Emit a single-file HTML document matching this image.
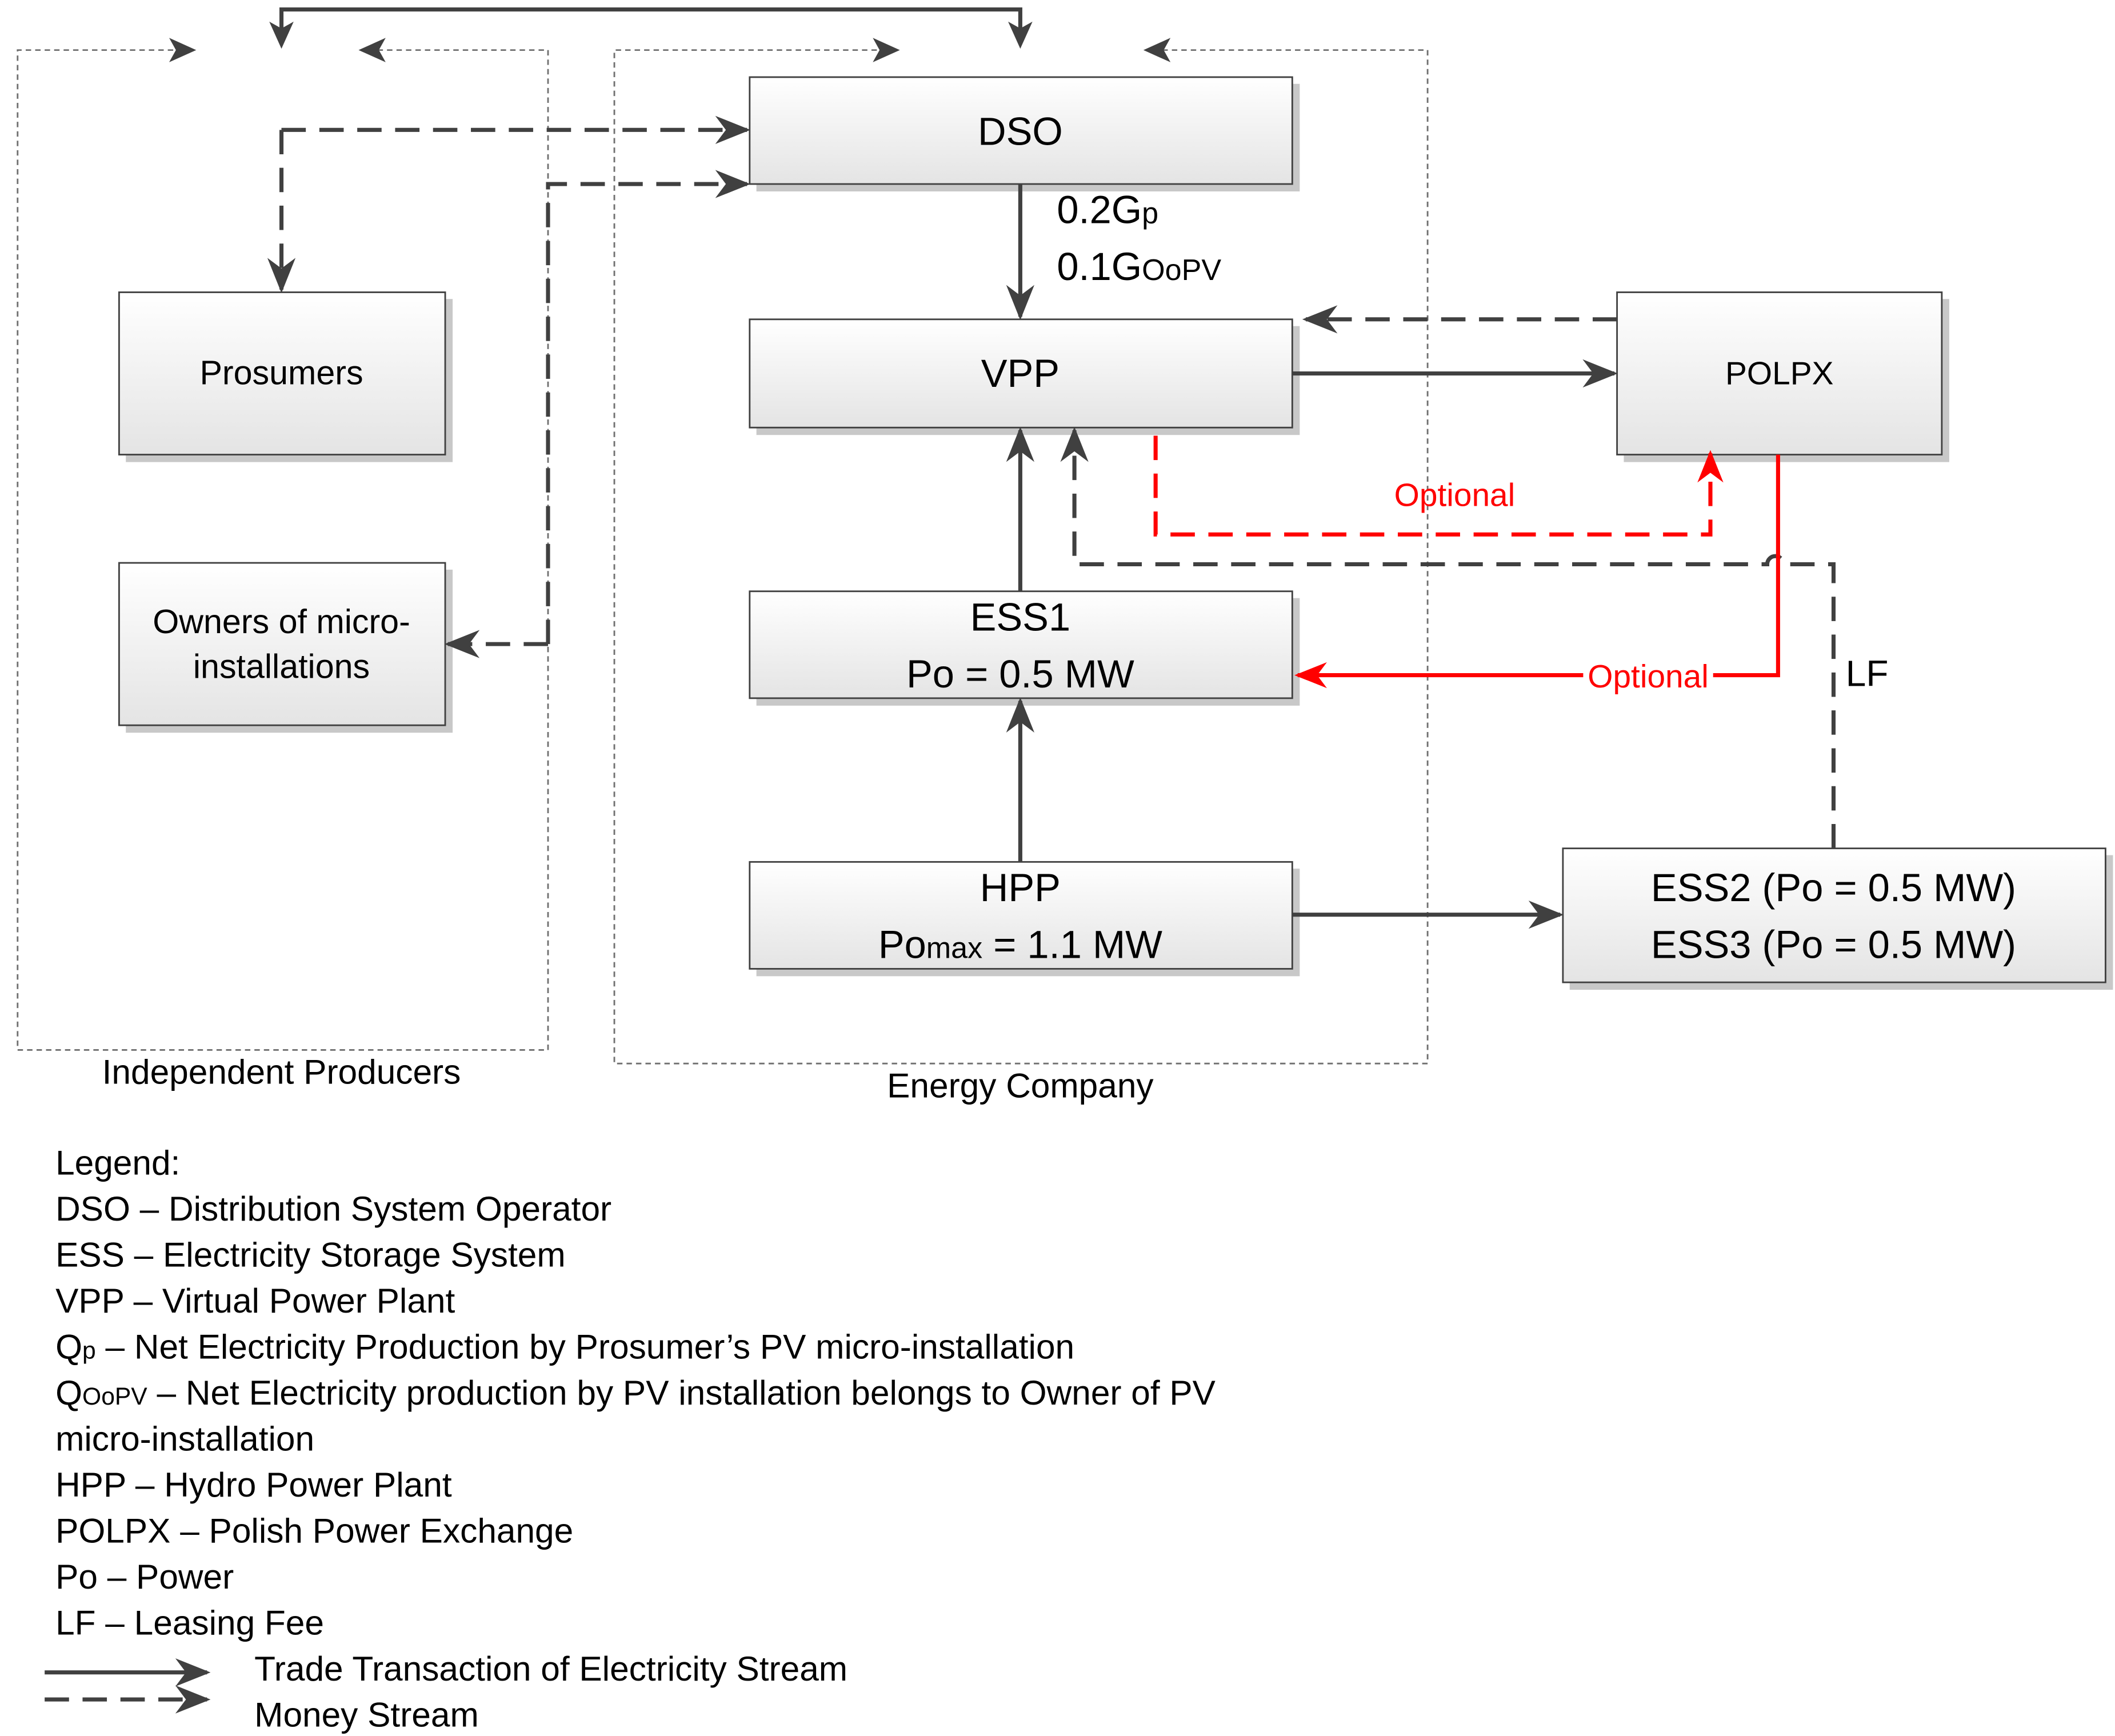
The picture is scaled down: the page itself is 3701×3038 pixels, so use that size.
<!DOCTYPE html>
<html><head><meta charset="utf-8"><style>html,body{margin:0;padding:0;background:#fff}svg{display:block}</style></head>
<body>
<svg width="3701" height="3038" viewBox="0 0 1563 1283" xmlns="http://www.w3.org/2000/svg" font-family="Liberation Sans, sans-serif">
<defs>
<linearGradient id="g" x1="0" y1="0" x2="0" y2="1"><stop offset="0" stop-color="#ffffff"/><stop offset="1" stop-color="#e4e4e4"/></linearGradient>
<marker id="A" viewBox="0 0 10 10" refX="9" refY="5" markerWidth="26" markerHeight="26" markerUnits="userSpaceOnUse" orient="auto"><path d="M0,1 L10,5 L0,9 L3,5 z" fill="#404040"/></marker>
<marker id="R" viewBox="0 0 10 10" refX="9" refY="5" markerWidth="24" markerHeight="24" markerUnits="userSpaceOnUse" orient="auto"><path d="M0,1 L10,5 L0,9 L3,5 z" fill="#f00"/></marker>
</defs>
<g fill="none" stroke="#707070" stroke-width="1.2" stroke-dasharray="4,3">
<path d="M135,37 L13,37 L13,776 L405,776 L405,37 L275,37"/>
<path d="M655,37 L454,37 L454,786 L1055,786 L1055,37 L855,37"/>
</g>
<g fill="#404040">
<path d="M145,37 l-20,-9 l5,9 l-5,9z"/><path d="M265,37 l20,-9 l-5,9 l5,9z"/>
<path d="M665,37 l-20,-9 l5,9 l-5,9z"/><path d="M845,37 l20,-9 l-5,9 l5,9z"/>
</g>
<path d="M208,32 L208,7 L754,7 L754,32" fill="none" stroke="#404040" stroke-width="3"/>
<path d="M208,36 l-9,-20 l9,5 l9,-5z M754,36 l-9,-20 l9,5 l9,-5z" fill="#404040"/>
<g stroke="#c8c8c8" stroke-width="5" fill="none">
<path d="M559,139 H958 V62"/><path d="M559,319 H958 V241"/><path d="M559,519 H958 V442"/><path d="M559,719 H958 V642"/>
<path d="M93,339 H332 V221"/><path d="M93,539 H332 V421"/><path d="M1200,339 H1438 V221"/><path d="M1160,729 H1559 V632"/>
</g>
<g fill="url(#g)" stroke="#404040" stroke-width="1.2">
<rect x="554" y="57" width="401" height="79"/><rect x="554" y="236" width="401" height="80"/>
<rect x="554" y="437" width="401" height="79"/><rect x="554" y="637" width="401" height="79"/>
<rect x="88" y="216" width="241" height="120"/><rect x="88" y="416" width="241" height="120"/>
<rect x="1195" y="216" width="240" height="120"/><rect x="1155" y="627" width="401" height="99"/>
</g>
<g stroke="#404040" stroke-width="3" fill="none">
<path d="M754,136 V234" marker-end="url(#A)"/>
<path d="M955,276 H1193" marker-end="url(#A)"/>
<path d="M754,437 V318" marker-end="url(#A)"/>
<path d="M754,637 V518" marker-end="url(#A)"/>
<path d="M955,676 H1153" marker-end="url(#A)"/>
</g>
<g stroke="#404040" stroke-width="3" fill="none" stroke-dasharray="18,10">
<path d="M1195,236 H965" marker-end="url(#A)"/>
<path d="M208,96 H552" marker-end="url(#A)"/>
<path d="M208,96 V214" marker-end="url(#A)"/>
<path d="M405,476 V136 H552" marker-end="url(#A)"/>
<path d="M405,476 H331" marker-end="url(#A)"/>
<path d="M1355,627 V417 H1318 A6,6 0 0 0 1306,417 H794 V318" marker-end="url(#A)"/>
</g>
<path d="M854,322 V395 H1264 V335" fill="none" stroke="#f00" stroke-width="3" stroke-dasharray="18,10" marker-end="url(#R)"/>
<path d="M1314,336 V499 H959" fill="none" stroke="#f00" stroke-width="3" marker-end="url(#R)"/>
<rect x="1170" y="486" width="96" height="28" fill="#fff"/>
<g fill="#f00" font-size="24" text-anchor="middle"><text x="1075" y="374">Optional</text><text x="1218" y="508">Optional</text></g>
<g fill="#000" text-anchor="middle">
<text x="754" y="107" font-size="29">DSO</text>
<text x="754" y="286" font-size="29">VPP</text>
<text x="754" y="466" font-size="29">ESS1</text>
<text x="754" y="508" font-size="29">Po = 0.5 MW</text>
<text x="754" y="666" font-size="29">HPP</text>
<text x="754" y="708" font-size="29">Po<tspan font-size="22">max</tspan> = 1.1 MW</text>
<text x="208" y="284" font-size="25">Prosumers</text>
<text x="208" y="468" font-size="25">Owners of micro-</text>
<text x="208" y="501" font-size="25">installations</text>
<text x="1315" y="284" font-size="24">POLPX</text>
<text x="1355" y="666" font-size="29">ESS2 (Po = 0.5 MW)</text>
<text x="1355" y="708" font-size="29">ESS3 (Po = 0.5 MW)</text>
<text x="208" y="801" font-size="25.5">Independent Producers</text>
<text x="754" y="811" font-size="25.5">Energy Company</text>
</g>
<g fill="#000" font-size="29">
<text x="781" y="165">0.2G<tspan font-size="22">p</tspan></text>
<text x="781" y="207">0.1G<tspan font-size="22">OoPV</tspan></text>
<text x="1364" y="507" font-size="27">LF</text>
</g>
<g fill="#000" font-size="25.5">
<text x="41" y="868">Legend:</text>
<text x="41" y="902">DSO – Distribution System Operator</text>
<text x="41" y="936">ESS – Electricity Storage System</text>
<text x="41" y="970">VPP – Virtual Power Plant</text>
<text x="41" y="1004">Q<tspan font-size="18">p</tspan> – Net Electricity Production by Prosumer’s PV micro-installation</text>
<text x="41" y="1038">Q<tspan font-size="18">OoPV</tspan> – Net Electricity production by PV installation belongs to Owner of PV</text>
<text x="41" y="1072">micro-installation</text>
<text x="41" y="1106">HPP – Hydro Power Plant</text>
<text x="41" y="1140">POLPX – Polish Power Exchange</text>
<text x="41" y="1174">Po – Power</text>
<text x="41" y="1208">LF – Leasing Fee</text>
<text x="188" y="1242">Trade Transaction of Electricity Stream</text>
<text x="188" y="1276">Money Stream</text>
</g>
<path d="M33,1236 H153" stroke="#404040" stroke-width="3" marker-end="url(#A)"/>
<path d="M33,1256 H153" stroke="#404040" stroke-width="3" stroke-dasharray="18,10" marker-end="url(#A)"/>
</svg>
</body></html>
